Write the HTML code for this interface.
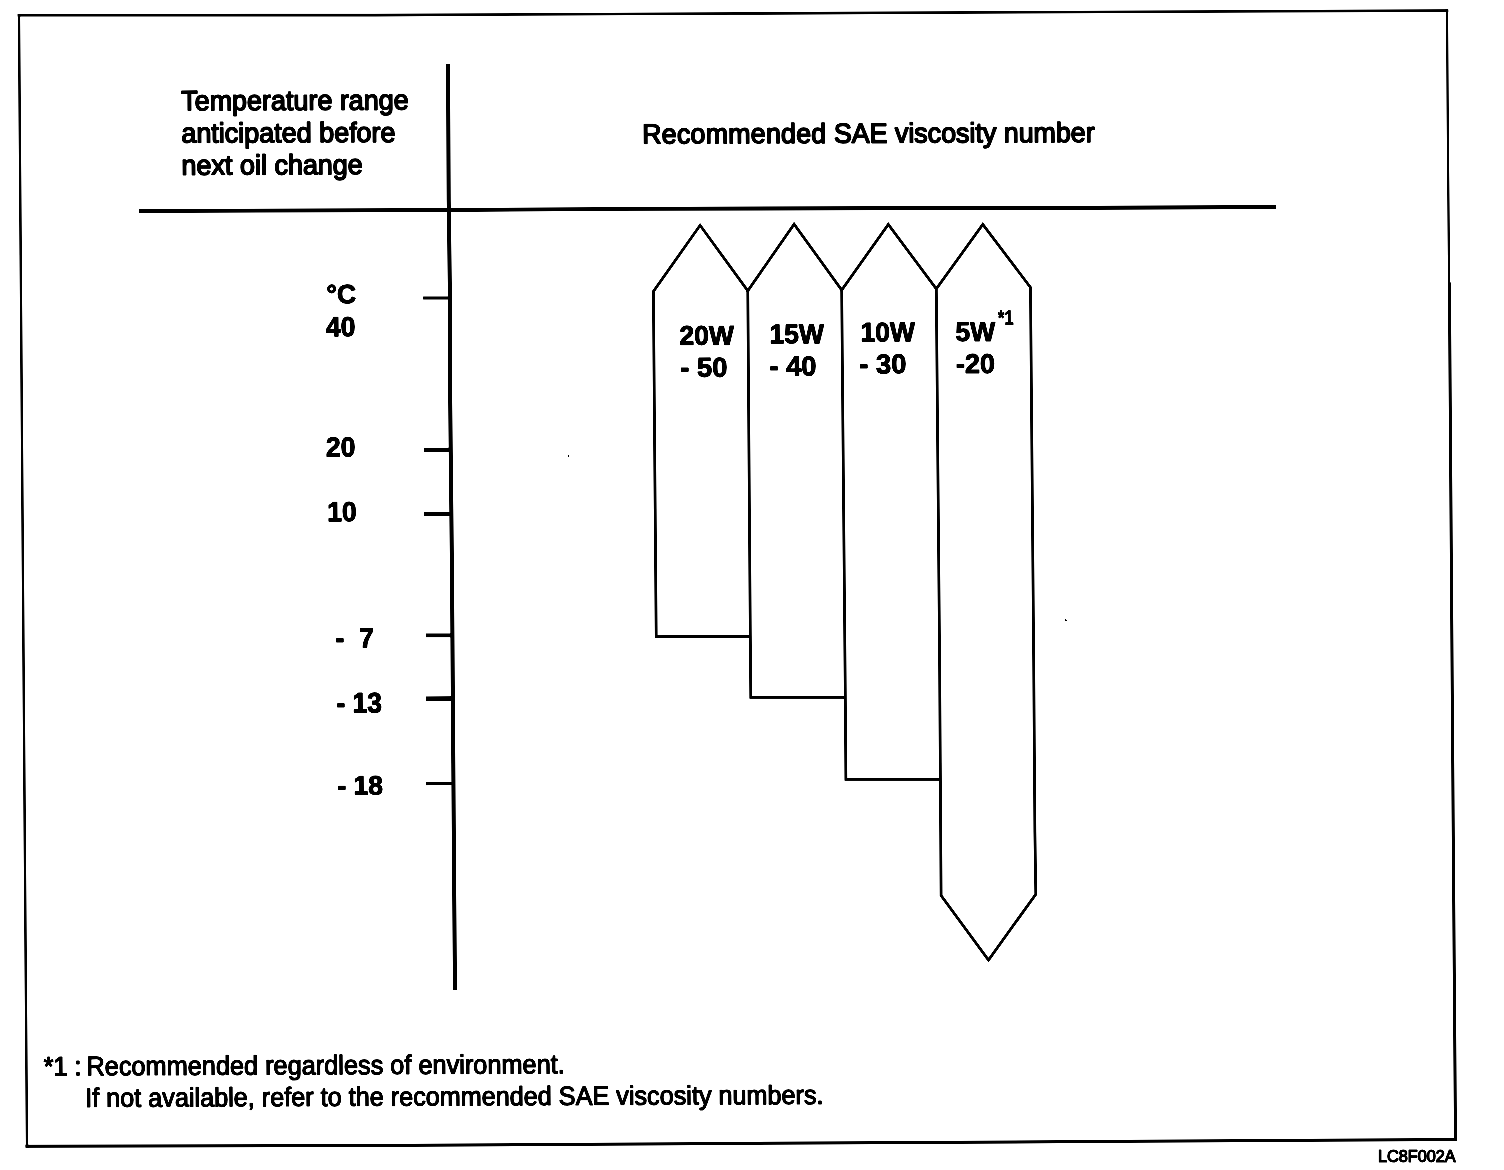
<!DOCTYPE html>
<html lang="en">
<head>
<meta charset="utf-8">
<title>Recommended SAE viscosity number</title>
<style>
  html, body { margin: 0; padding: 0; background: #fff; }
  body { width: 1504px; height: 1170px; overflow: hidden; position: relative; }
  svg { position: absolute; left: 0; top: 0; display: block; filter: grayscale(1) contrast(1.8); }
  text { font-family: "Liberation Sans", Arial, Helvetica, sans-serif; fill: #000; stroke: #000; stroke-linejoin: round; }
  .r { font-size: 26.95px; font-weight: normal; stroke-width: 1.5px; }
  .f { font-size: 25.22px; font-weight: normal; stroke-width: 1.1px; }
  .b { font-size: 26.5px; font-weight: bold; stroke-width: 0.9px; }
  .s { font-size: 20px; font-weight: bold; stroke-width: 0.6px; }
  .c { font-size: 16.25px; font-weight: normal; stroke-width: 1.2px; }
  .ln { fill: none; stroke: #000; stroke-linecap: butt; stroke-linejoin: miter; }
</style>
</head>
<body>
<svg width="1504" height="1170" viewBox="0 0 1504 1170">
  <rect x="0" y="0" width="1504" height="1170" fill="#fff"/>

  <!-- outer frame (scanned, slightly skewed) -->
  <g class="ln" style="stroke-linecap:square">
    <polyline stroke-width="2.6" points="19,15.2 375,15.1 730,13.5 1090,12 1447,10.6"/>
    <polyline stroke-width="2.2" points="1447,10.6 1448,156 1449.1,282"/>
    <polyline stroke-width="3"   points="1449.4,284 1449.5,300 1451.5,585 1453.5,870 1455.5,1139.6"/>
    <polyline stroke-width="3"   points="1455.5,1139.6 1090,1141.5 730,1143.5 375,1145.4 27,1146.3"/>
    <polyline stroke-width="2.4" points="27,1146.3 25,870 23,585 21,300 19,15.2"/>
  </g>

  <!-- header rule -->
  <polyline class="ln" stroke-width="3.9" points="139,211 450,210 630,208.9 850,208.3 1050,208 1276,207"/>

  <!-- vertical axis -->
  <polyline class="ln" stroke-width="4" points="448,64 448.7,200 450,300 450.2,400 452,575 454.2,892 455,990"/>

  <!-- ticks -->
  <line class="ln" stroke-width="3"   x1="423.1" y1="298.1" x2="450" y2="298"/>
  <line class="ln" stroke-width="4"   x1="424.2" y1="449.9" x2="451" y2="449.8"/>
  <line class="ln" stroke-width="3.8" x1="424.2" y1="514"   x2="451.5" y2="513.9"/>
  <line class="ln" stroke-width="3.7" x1="425.9" y1="635.4" x2="452.5" y2="635.3"/>
  <line class="ln" stroke-width="4.5" x1="425.9" y1="698.7" x2="453" y2="698.6"/>
  <line class="ln" stroke-width="3.2" x1="425.9" y1="783.6" x2="453.5" y2="783.5"/>

  <!-- viscosity bars -->
  <g class="ln" stroke-width="2.8">
    <polyline points="750.3,636.3 656.2,636.6 653.4,291.4 700.1,225.3 747.8,290.8 794.1,224.1 841.7,290 888.3,224.4 936.3,288.9 982.8,224.4 1030.5,287.4 1033.7,660 1034.9,832 1035.8,894.2 988.5,960 941.1,895.5 940.7,832 939.6,660 936.3,288.9"/>
    <polyline points="747.8,290.8 750.3,636 750.8,697.3 845.6,697.4"/>
    <polyline points="841.7,290 845.3,697 845.9,779.3 940.4,779.3"/>
  </g>

  <!-- left header -->
  <text class="r" transform="matrix(1 -0.0035 0.0072 1.03 181.2 110.3)">Temperature range</text>
  <text class="r" transform="matrix(1 -0.0035 0.0072 1.03 181.4 142.6)">anticipated before</text>
  <text class="r" transform="matrix(1 -0.0035 0.0072 1.03 181.6 174.7)">next oil change</text>

  <!-- right header -->
  <text class="r" style="font-size:26.82px" transform="matrix(1 -0.0035 0.0072 1.03 642.3 143.5)"><tspan style="letter-spacing:0.21px">Recommended</tspan> SAE viscosity number</text>

  <!-- temperature labels -->
  <text class="b" transform="matrix(1 -0.0035 0.0072 1 326.4 303.3)">°C</text>
  <text class="b" transform="matrix(1 -0.0035 0.0075 1.045 326.1 336.25)">40</text>
  <text class="b" transform="matrix(1 -0.0035 0.0075 1.045 325.9 456.45)">20</text>
  <text class="b" transform="matrix(1 -0.0035 0.0075 1.045 327.2 521.35)">10</text>
  <text class="b" transform="matrix(1 -0.0035 0.0075 1.05 335.6 647.55)">- <tspan dx="7.4">7</tspan></text>
  <text class="b" transform="matrix(1 -0.0035 0.0075 1.07 336.4 712.65)">- 13</text>
  <text class="b" transform="matrix(1 -0.0035 0.0075 1 337.4 794.65)">- 18</text>

  <!-- bar labels -->
  <text class="b" transform="matrix(1 -0.0035 0.0075 1.02 679.6 344.85)">20W</text>
  <text class="b" style="font-size:27.4px" transform="matrix(1 -0.0035 0.0075 1 680.3 376.85)">- 50</text>
  <text class="b" transform="matrix(1 -0.0035 0.0075 1.02 769.6 343.25)">15W</text>
  <text class="b" style="font-size:27.4px" transform="matrix(1 -0.0035 0.0075 1 769.4 375.55)">- 40</text>
  <text class="b" transform="matrix(1 -0.0035 0.0075 1.02 860.6 341.45)">10W</text>
  <text class="b" style="font-size:27.4px" transform="matrix(1 -0.0035 0.0075 1 859.3 373.45)">- 30</text>
  <text class="b" transform="matrix(1 -0.0035 0.0075 1.02 955.5 340.95)">5W</text>
  <text class="s" transform="matrix(0.82 -0.003 0.0072 1.03 998 324.7)">*1</text>
  <text class="b" style="font-size:27.1px" transform="matrix(1 -0.0035 0.0075 1 955.9 373.05)">-20</text>

  <!-- footnote -->
  <text class="f" transform="matrix(1 -0.0042 0.0072 1.06 43.7 1075.5)">*1 : <tspan dx="-2" style="font-size:25.31px">Recommended regardless of environment.</tspan></text>
  <text class="f" transform="matrix(1 -0.004 0.0072 1.05 85.3 1106.9)">If not available, refer to the recommended SAE viscosity numbers.</text>

  <!-- scan specks -->
  <rect x="568" y="455" width="1.2" height="2" fill="#000"/>
  <path d="M1065,619 h1 v1 h1 v1 h-2 z" fill="#000"/>

  <!-- figure code -->
  <text class="c" x="1378" y="1161.5">LC8F002A</text>
</svg>
</body>
</html>
